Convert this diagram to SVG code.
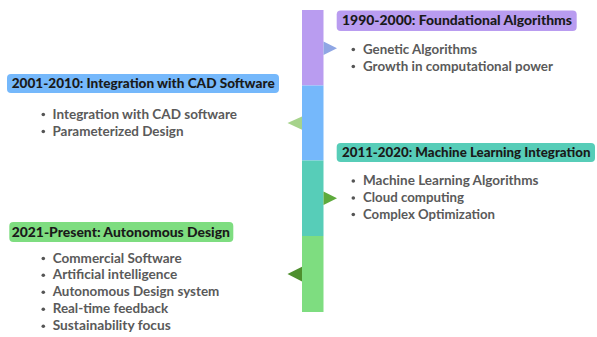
<svg xmlns="http://www.w3.org/2000/svg" width="597" height="337" viewBox="0 0 597 337">
  <style>
    .hd { font-family: Lato, "Open Sans", sans-serif; font-weight: 900; font-size: 13px; fill: #1a1a1a; }
    .it { font-family: Lato, "Open Sans", sans-serif; font-weight: 700; font-size: 12.6px; fill: #5a5a5a; }
    .dot { fill: #555555; }
    .purple { fill: #b99cf0; }
    .blue { fill: #75b8fb; }
    .teal { fill: #57cdb8; }
    .green { fill: #7edd80; }
  </style>
  <rect width="597" height="337" fill="#ffffff"/>

  <!-- timeline bar -->
  <g id="timeline">
    <rect class="purple" x="302" y="10" width="21.5" height="75.5"/>
    <rect class="blue" x="302" y="85.5" width="21.5" height="75"/>
    <rect class="teal" x="302" y="160.5" width="21.5" height="75.5"/>
    <rect class="green" x="302" y="236" width="21.5" height="76"/>
  </g>

  <!-- pointers from the bar to each period -->
  <g id="connectors">
    <polygon points="323.5,41.5 337,48.3 323.5,55" fill="#8fa6e4"/>
    <polygon points="302,116.5 287.5,123 302,129.8" fill="#a6d38b"/>
    <polygon points="323.5,191.5 337,198.3 323.5,205" fill="#5daa3c"/>
    <polygon points="302,266.8 287.5,274 302,281.5" fill="#4e8f2e"/>
  </g>

  <g id="period-1990">
    <rect class="purple" x="336.7" y="10.5" width="240" height="20.5" rx="4"/>
    <text class="hd" x="342" y="25.3" textLength="230" lengthAdjust="spacingAndGlyphs">1990-2000: Foundational Algorithms</text>
    <circle class="dot" cx="353.3" cy="49.5" r="1.8"/>
    <text class="it" x="363" y="53.5" textLength="114" lengthAdjust="spacingAndGlyphs">Genetic Algorithms</text>
    <circle class="dot" cx="353.3" cy="66.5" r="1.8"/>
    <text class="it" x="363" y="70.5" textLength="190" lengthAdjust="spacingAndGlyphs">Growth in computational power</text>
  </g>

  <g id="period-2001">
    <rect class="blue" x="7" y="74" width="272" height="19" rx="4"/>
    <text class="hd" x="11.7" y="88.3" textLength="263" lengthAdjust="spacingAndGlyphs">2001-2010: Integration with CAD Software</text>
    <circle class="dot" cx="43.3" cy="114.5" r="1.8"/>
    <text class="it" x="52.5" y="118.5" textLength="184.5" lengthAdjust="spacingAndGlyphs">Integration with CAD software</text>
    <circle class="dot" cx="43.3" cy="131.5" r="1.8"/>
    <text class="it" x="52.5" y="135.5" textLength="131" lengthAdjust="spacingAndGlyphs">Parameterized Design</text>
  </g>

  <g id="period-2011">
    <rect class="teal" x="336.7" y="143" width="258.3" height="19" rx="4"/>
    <text class="hd" x="342" y="157.3" textLength="248.5" lengthAdjust="spacingAndGlyphs">2011-2020: Machine Learning Integration</text>
    <circle class="dot" cx="353.3" cy="181" r="1.8"/>
    <text class="it" x="363" y="185" textLength="175.5" lengthAdjust="spacingAndGlyphs">Machine Learning Algorithms</text>
    <circle class="dot" cx="353.3" cy="198" r="1.8"/>
    <text class="it" x="363" y="202" textLength="101" lengthAdjust="spacingAndGlyphs">Cloud computing</text>
    <circle class="dot" cx="353.3" cy="214.5" r="1.8"/>
    <text class="it" x="363" y="218.5" textLength="132" lengthAdjust="spacingAndGlyphs">Complex Optimization</text>
  </g>

  <g id="period-2021">
    <rect class="green" x="9.3" y="222" width="224" height="20" rx="4"/>
    <text class="hd" x="11.7" y="236.8" textLength="218.3" lengthAdjust="spacingAndGlyphs">2021-Present: Autonomous Design</text>
    <circle class="dot" cx="43.3" cy="258.5" r="1.8"/>
    <text class="it" x="52.7" y="262.5" textLength="129" lengthAdjust="spacingAndGlyphs">Commercial Software</text>
    <circle class="dot" cx="43.3" cy="275.3" r="1.8"/>
    <text class="it" x="52.7" y="279.3" textLength="124.6" lengthAdjust="spacingAndGlyphs">Artificial intelligence</text>
    <circle class="dot" cx="43.3" cy="292.3" r="1.8"/>
    <text class="it" x="52.7" y="296.3" textLength="166.6" lengthAdjust="spacingAndGlyphs">Autonomous Design system</text>
    <circle class="dot" cx="43.3" cy="309.3" r="1.8"/>
    <text class="it" x="52.7" y="313.3" textLength="115.6" lengthAdjust="spacingAndGlyphs">Real-time feedback</text>
    <circle class="dot" cx="43.3" cy="326.3" r="1.8"/>
    <text class="it" x="52.7" y="330.3" textLength="118" lengthAdjust="spacingAndGlyphs">Sustainability focus</text>
  </g>
</svg>
